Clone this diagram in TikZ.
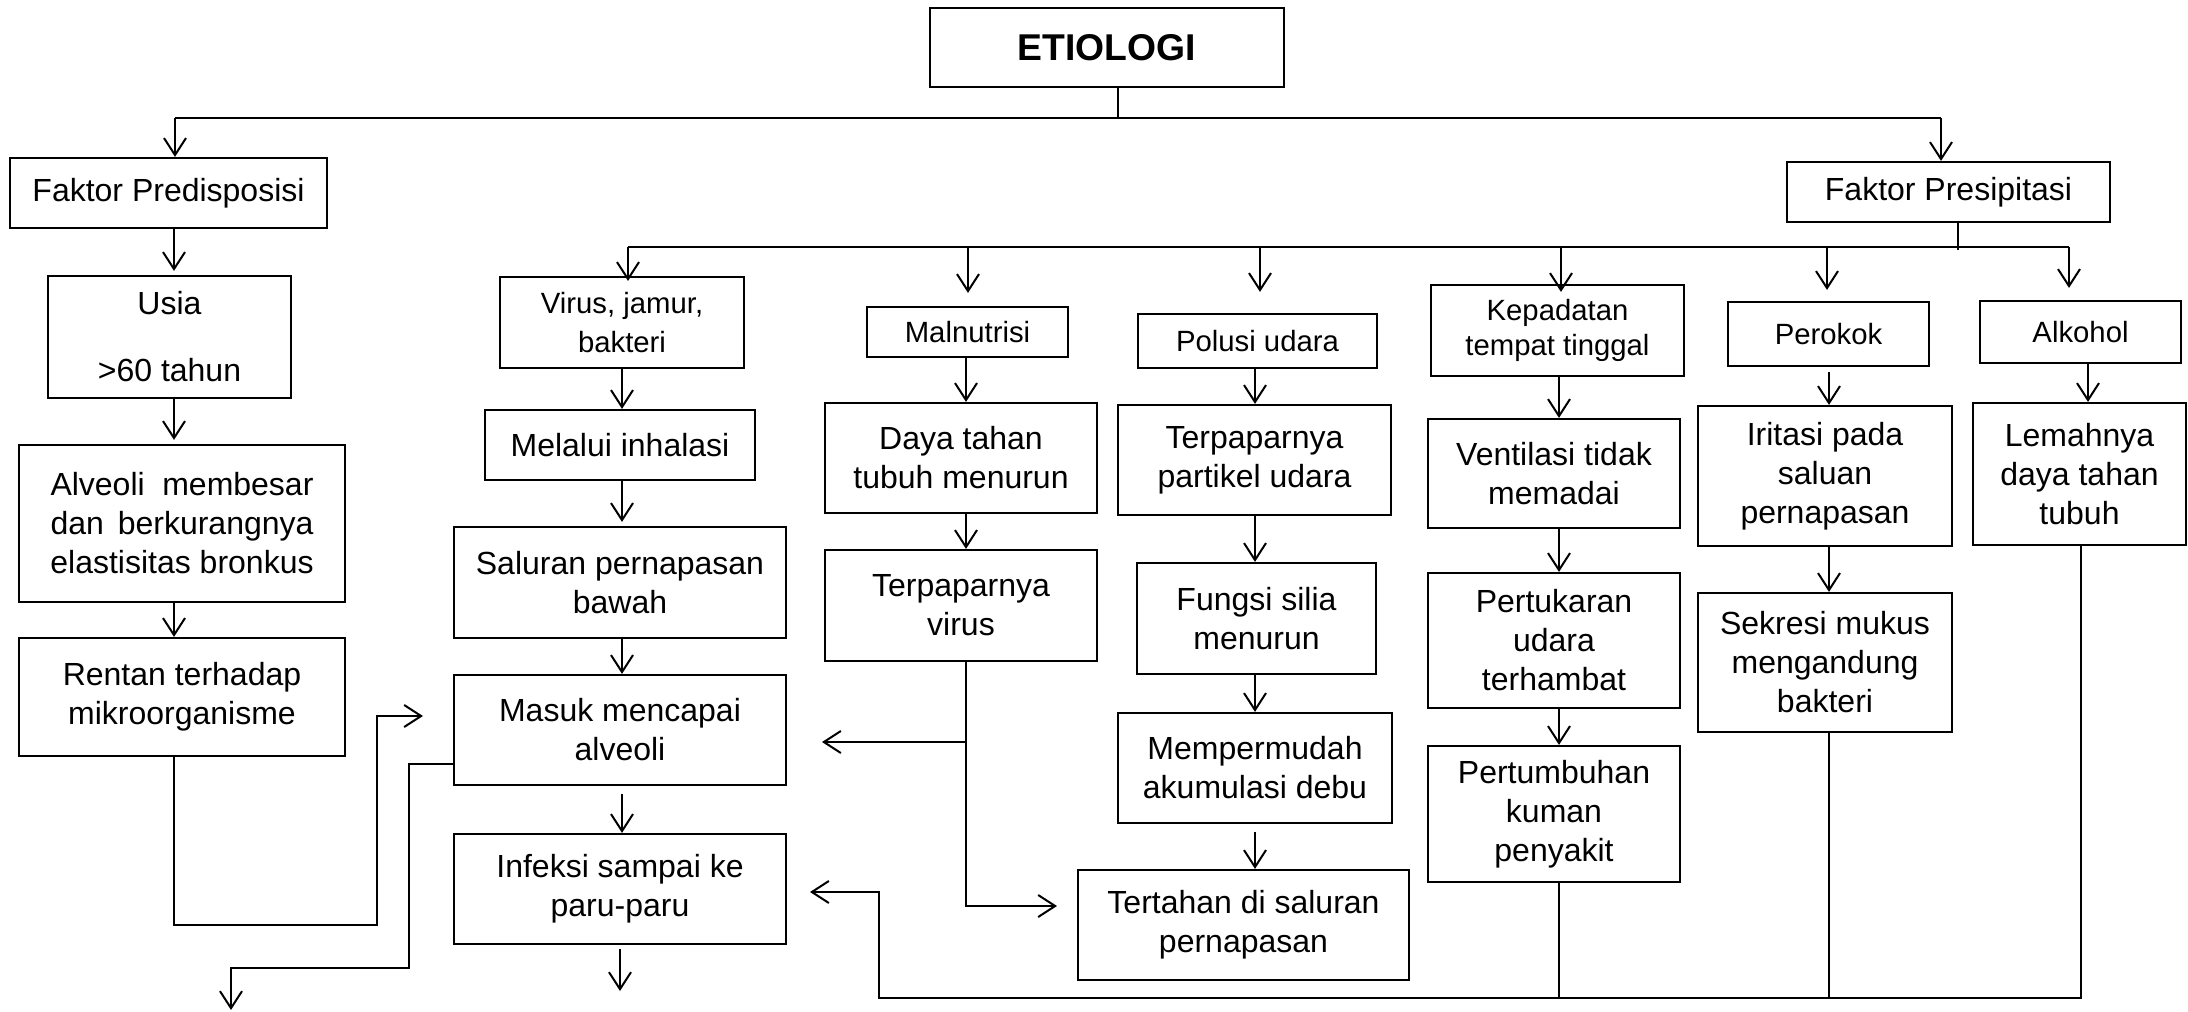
\documentclass[tikz,border=0pt]{standalone}
\usepackage{fontspec}
\setmainfont{Liberation Sans}
\usetikzlibrary{arrows.meta}
\newcommand\fa{\fontsize{32}{39}\selectfont}
\newcommand\fb{\fontsize{29.3}{39}\selectfont}
\begin{document}
\begin{tikzpicture}[x=1pt,y=-1pt,
  box/.style={draw, line width=2.2pt, inner sep=0pt, align=center, font=\fa},
  sbox/.style={box, font=\fb},
  ln/.style={line width=2pt},
  arr/.style={ln, -{Straight Barb[length=17pt,width=22pt]}}]
\fill[white] (0,0) rectangle (2188,1012);
\useasboundingbox (0,0) rectangle (2188,1012);

% title and factors
\node[box, minimum width=354pt, minimum height=79pt, font=\fontsize{37.3}{44}\selectfont\bfseries] (etio) at (1107,47.5) {ETIOLOGI};
\node[box, minimum width=317pt, minimum height=70pt] (fpre) at (168.5,193) {Faktor Predisposisi};
\node[box, minimum width=323pt, minimum height=60pt] (fpres) at (1948.5,192) {Faktor Presipitasi};

% left column
\node[box, minimum width=243pt, minimum height=122pt] (usia) at (169.5,337) {Usia\\[28pt]>60 tahun};
\node[box, minimum width=326pt, minimum height=157pt] (alv) at (182,523.5) {\hbox to 263pt{Alveoli\hfill membesar}\\\hbox to 263pt{dan\hfill berkurangnya}\\elastisitas bronkus};
\node[box, minimum width=326pt, minimum height=118pt] (rentan) at (182,697) {Rentan terhadap\\mikroorganisme};

% virus column
\node[sbox, minimum width=244pt, minimum height=91pt] (virus) at (622,322.5) {Virus, jamur,\\bakteri};
\node[box, minimum width=270pt, minimum height=70pt] (melalui) at (620,445) {Melalui inhalasi};
\node[box, minimum width=332pt, minimum height=111pt] (saluran) at (620,582.5) {Saluran pernapasan\\bawah};
\node[box, minimum width=332pt, minimum height=110pt] (masuk) at (620,730) {Masuk mencapai\\alveoli};
\node[box, minimum width=332pt, minimum height=110pt] (infeksi) at (620,889) {Infeksi sampai ke\\paru-paru};

% malnutrisi column
\node[sbox, minimum width=201pt, minimum height=50pt] (maln) at (967.5,332) {Malnutrisi};
\node[box, minimum width=272pt, minimum height=110pt] (daya) at (961,458) {Daya tahan\\tubuh menurun};
\node[box, minimum width=272pt, minimum height=111pt] (tvirus) at (961,605.5) {Terpaparnya\\virus};

% polusi column
\node[sbox, minimum width=239pt, minimum height=54pt] (polusi) at (1257.5,341) {Polusi udara};
\node[box, minimum width=273pt, minimum height=110pt] (tpart) at (1254.5,460) {Terpaparnya\\partikel udara};
\node[box, minimum width=239pt, minimum height=111pt] (fungsi) at (1256.5,618.5) {Fungsi silia\\menurun};
\node[box, minimum width=274pt, minimum height=110pt] (memp) at (1255,768) {Mempermudah\\akumulasi debu};
\node[box, minimum width=331pt, minimum height=110pt] (tertahan) at (1243.5,925) {Tertahan di saluran\\pernapasan};

% kepadatan column
\node[sbox, minimum width=253pt, minimum height=91pt, font=\fontsize{29.3}{35.5}\selectfont] (kepad) at (1557.5,330.5) {Kepadatan\\tempat tinggal};
\node[box, minimum width=252pt, minimum height=109pt] (vent) at (1554,473.5) {Ventilasi tidak\\memadai};
\node[box, minimum width=252pt, minimum height=135pt] (pertuk) at (1554,640.5) {Pertukaran\\udara\\terhambat};
\node[box, minimum width=252pt, minimum height=136pt] (pertum) at (1554,814) {Pertumbuhan\\kuman\\penyakit};

% perokok column
\node[sbox, minimum width=201pt, minimum height=64pt] (perokok) at (1828.5,334) {Perokok};
\node[box, minimum width=254pt, minimum height=140pt] (iritasi) at (1825,476) {Iritasi pada\\saluan\\pernapasan};
\node[box, minimum width=254pt, minimum height=139pt] (sekresi) at (1825,662.5) {Sekresi mukus\\mengandung\\bakteri};

% alkohol column
\node[sbox, minimum width=201pt, minimum height=62pt] (alkohol) at (2080.5,332) {Alkohol};
\node[box, minimum width=213pt, minimum height=142pt] (lemah) at (2079.5,474) {Lemahnya\\daya tahan\\tubuh};

% coordinates
\coordinate (tM) at (1118,118);
\coordinate (tL) at (175,118);
\coordinate (tR) at (1941,118);
\coordinate (bP) at (1958,250);
\coordinate (bL) at (628,247);
\coordinate (b2) at (968,247);
\coordinate (b3) at (1260,247);
\coordinate (b4) at (1561,247);
\coordinate (b5) at (1827,247);
\coordinate (bR) at (2069,247);
\coordinate (cL) at (174,0);
\coordinate (cV) at (622,0);
\coordinate (cM) at (966,0);
\coordinate (cP) at (1255,0);
\coordinate (cK) at (1559,0);
\coordinate (cR) at (1829,0);
\coordinate (cA) at (2088,0);
\coordinate (r1) at (174,925);
\coordinate (r2) at (377,925);
\coordinate (r3) at (377,716);
\coordinate (r4) at (423,716);
\coordinate (m1) at (409,764);
\coordinate (m2) at (409,968);
\coordinate (m3) at (231,968);
\coordinate (m4) at (231,1010);
\coordinate (i1) at (620,991);
\coordinate (t1) at (966,906);
\coordinate (t2) at (1057,906);
\coordinate (t3) at (966,742);
\coordinate (t4) at (822,742);
\coordinate (z3) at (2081,998);
\coordinate (z2) at (879,998);
\coordinate (z1) at (879,892);
\coordinate (z0) at (810,892);

% top tree
\draw[ln] (etio.south -| tM) -- (tM);
\draw[ln] (tL) -- (tR);
\draw[arr] (tL) -- (tL |- fpre.north);
\draw[arr] (tR) -- (tR |- fpres.north);
\draw[ln] (fpres.south -| bP) -- (bP);
\draw[ln] (bL) -- (bR);
\draw[arr, shorten >=-5pt] (bL) -- (bL |- virus.north);
\draw[arr, shorten >=13pt] (b2) -- (b2 |- maln.north);
\draw[arr, shorten >=21pt] (b3) -- (b3 |- polusi.north);
\draw[arr, shorten >=-8pt] (b4) -- (b4 |- kepad.north);
\draw[arr, shorten >=11pt] (b5) -- (b5 |- perokok.north);
\draw[arr, shorten >=12pt] (bR) -- (bR |- alkohol.north);

% left column
\draw[arr, shorten >=4pt] (fpre.south -| cL) -- (usia.north -| cL);
\draw[arr, shorten >=4pt] (usia.south -| cL) -- (alv.north -| cL);
\draw[arr] (alv.south -| cL) -- (rentan.north -| cL);
\draw[arr] (rentan.south -| cL) -- (r1) -- (r2) -- (r3) -- (r4);

% virus column
\draw[arr] (virus.south -| cV) -- (melalui.north -| cV);
\draw[arr, shorten >=4pt] (melalui.south -| cV) -- (saluran.north -| cV);
\draw[arr] (saluran.south -| cV) -- (masuk.north -| cV);
\draw[arr, shorten <=8pt] (masuk.south -| cV) -- (infeksi.north -| cV);
\draw[arr] (masuk.west |- m1) -- (m1) -- (m2) -- (m3) -- (m4);
\draw[arr, shorten <=4pt] (infeksi.south -| i1) -- (i1);

% malnutrisi column
\draw[arr] (maln.south -| cM) -- (daya.north -| cM);
\draw[arr] (daya.south -| cM) -- (tvirus.north -| cM);
\draw[arr] (tvirus.south -| cM) -- (t1) -- (t2);
\draw[arr] (t3) -- (t4);

% polusi column
\draw[arr] (polusi.south -| cP) -- (tpart.north -| cP);
\draw[arr] (tpart.south -| cP) -- (fungsi.north -| cP);
\draw[arr] (fungsi.south -| cP) -- (memp.north -| cP);
\draw[arr, shorten <=8pt] (memp.south -| cP) -- (tertahan.north -| cP);

% kepadatan column
\draw[arr] (kepad.south -| cK) -- (vent.north -| cK);
\draw[arr] (vent.south -| cK) -- (pertuk.north -| cK);
\draw[arr] (pertuk.south -| cK) -- (pertum.north -| cK);
\draw[ln] (pertum.south -| cK) -- (cK |- z2);

% perokok column
\draw[arr, shorten <=5pt] (perokok.south -| cR) -- (iritasi.north -| cR);
\draw[arr] (iritasi.south -| cR) -- (sekresi.north -| cR);
\draw[ln] (sekresi.south -| cR) -- (cR |- z2);

% alkohol column
\draw[arr] (alkohol.south -| cA) -- (lemah.north -| cA);
\draw[arr] (lemah.south -| z3) -- (z3) -- (z2) -- (z1) -- (z0);
\end{tikzpicture}
\end{document}
